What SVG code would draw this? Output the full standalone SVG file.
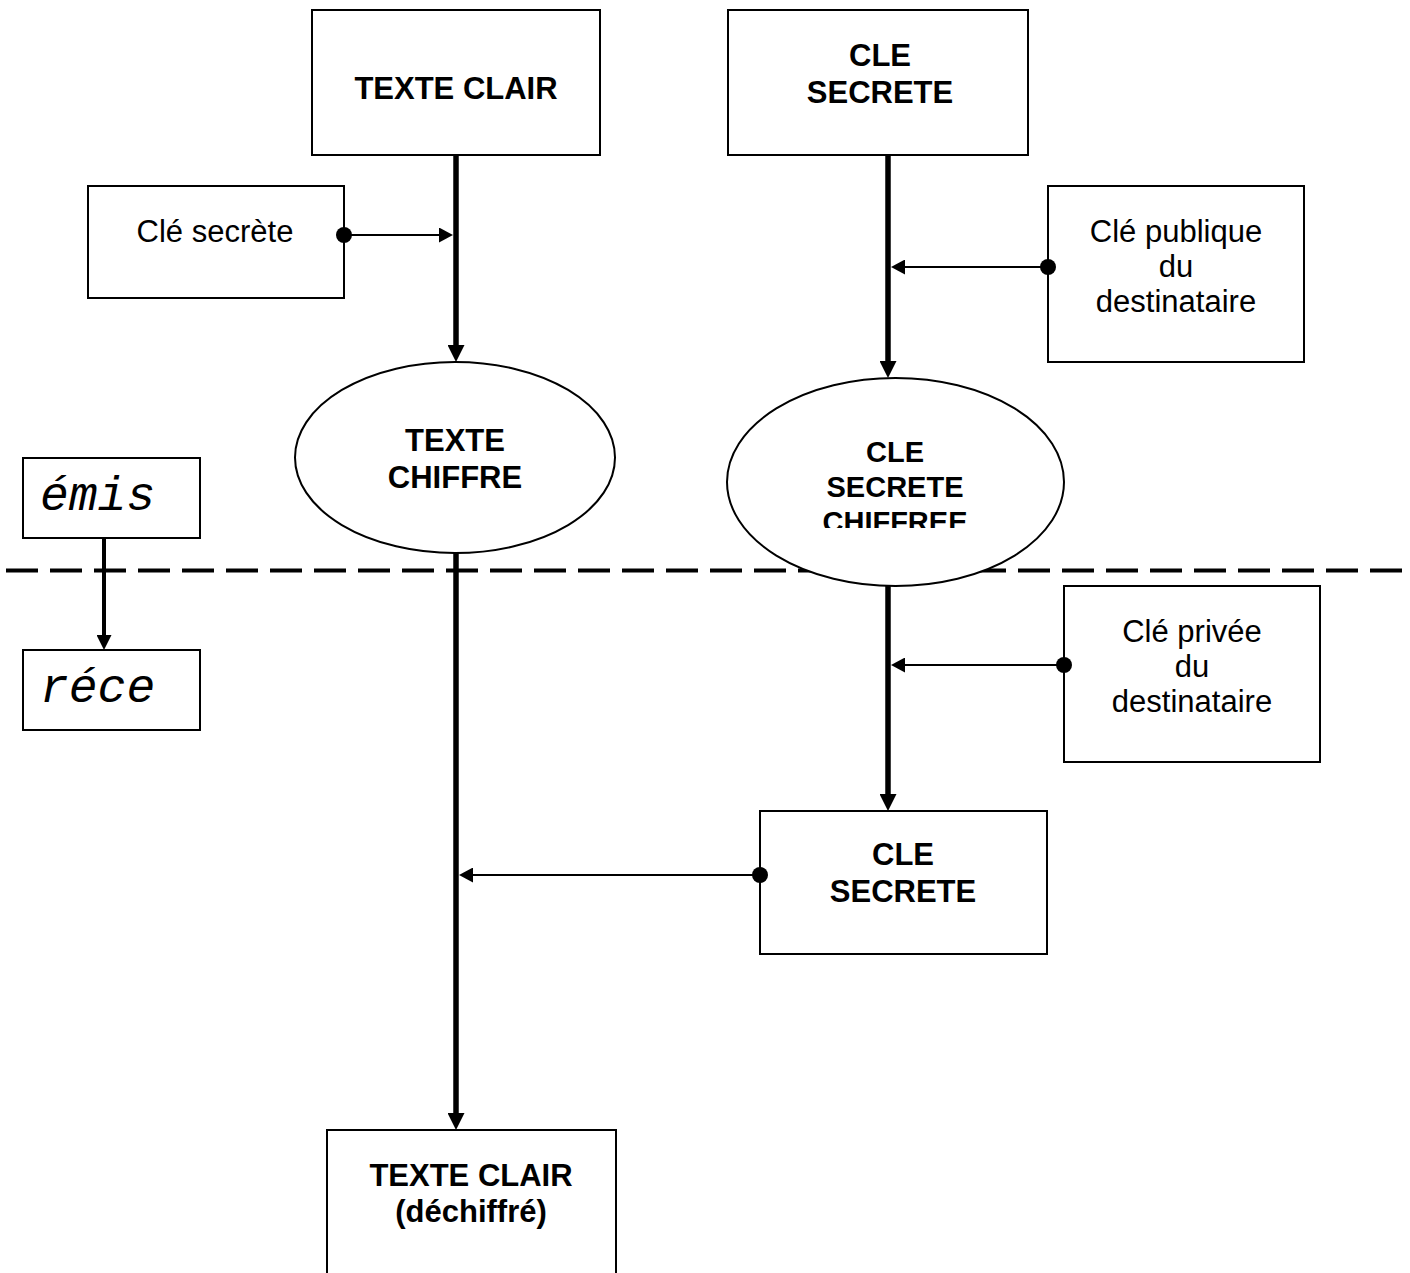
<svg xmlns="http://www.w3.org/2000/svg" width="1410" height="1273" viewBox="0 0 1410 1273">
<style>
.box{fill:#fff;stroke:#000;stroke-width:2}
.b{font-family:"Liberation Sans",Arial,sans-serif;font-weight:bold;font-size:31px;text-anchor:middle;fill:#000}
.b2{font-family:"Liberation Sans",Arial,sans-serif;font-weight:bold;font-size:29px;text-anchor:middle;fill:#000}
.r{font-family:"Liberation Sans",Arial,sans-serif;font-size:31px;text-anchor:middle;fill:#000}
.m{font-family:"Liberation Mono","Courier New",monospace;font-style:italic;font-size:48px;fill:#000}
.thick{stroke:#000;stroke-width:5.5;fill:none}
.thin{stroke:#000;stroke-width:2;fill:none}
</style>
<defs>
<marker id="arrowThick" markerUnits="userSpaceOnUse" markerWidth="17" markerHeight="17" refX="7" refY="8.5" orient="auto" viewBox="0 0 17 17"><path d="M0,0 L17,8.5 L0,17 z" fill="#000"/></marker>
<marker id="arrowMid" markerUnits="userSpaceOnUse" markerWidth="15" markerHeight="15" refX="6" refY="7.5" orient="auto" viewBox="0 0 15 15"><path d="M0,0 L15,7.5 L0,15 z" fill="#000"/></marker>
<marker id="arrowThin" markerUnits="userSpaceOnUse" markerWidth="14" markerHeight="15" refX="9" refY="7.5" orient="auto" viewBox="0 0 14 15"><path d="M0,0 L14,7.5 L0,15 z" fill="#000"/></marker>
<marker id="dot" markerUnits="userSpaceOnUse" markerWidth="17" markerHeight="17" refX="8.5" refY="8.5" viewBox="0 0 17 17"><circle cx="8.5" cy="8.5" r="8" fill="#000"/></marker>
<clipPath id="clipChiffree"><rect x="720" y="370" width="360" height="158"/></clipPath>
</defs>

<line x1="6" y1="570.5" x2="1410" y2="570.5" stroke="#000" stroke-width="4" stroke-dasharray="32 12"/>

<g id="texte-clair">
<rect class="box" x="312" y="10" width="288" height="145"/>
<text class="b" x="456" y="99">TEXTE CLAIR</text>
</g>
<g id="cle-secrete-top">
<rect class="box" x="728" y="10" width="300" height="145"/>
<text class="b" x="880" y="66">CLE</text>
<text class="b" x="880" y="103">SECRETE</text>
</g>
<g id="cle-secrete-sym">
<rect class="box" x="88" y="186" width="256" height="112"/>
<text class="r" x="215" y="242">Clé secrète</text>
</g>
<g id="cle-publique">
<rect class="box" x="1048" y="186" width="256" height="176"/>
<text class="r" x="1176" y="242">Clé publique</text>
<text class="r" x="1176" y="277">du</text>
<text class="r" x="1176" y="312">destinataire</text>
</g>
<g id="texte-chiffre">
<ellipse class="box" cx="455" cy="457.5" rx="160" ry="95.5"/>
<text class="b" x="455" y="451">TEXTE</text>
<text class="b" x="455" y="488">CHIFFRE</text>
</g>
<g id="cle-secrete-chiffree">
<ellipse class="box" cx="895.5" cy="482" rx="168.5" ry="104"/>
<g clip-path="url(#clipChiffree)">
<text class="b2" x="895" y="462">CLE</text>
<text class="b2" x="895" y="497">SECRETE</text>
<text class="b2" x="895" y="532">CHIFFREE</text>
</g>
</g>
<g id="emis">
<rect class="box" x="23" y="458" width="177" height="80"/>
<text class="m" x="40" y="510">émis</text>
</g>
<g id="rece">
<rect class="box" x="23" y="650" width="177" height="80"/>
<text class="m" x="40" y="702">réce</text>
</g>
<g id="cle-privee">
<rect class="box" x="1064" y="586" width="256" height="176"/>
<text class="r" x="1192" y="642">Clé privée</text>
<text class="r" x="1192" y="677">du</text>
<text class="r" x="1192" y="712">destinataire</text>
</g>
<g id="cle-secrete-dechiffree">
<rect class="box" x="760" y="811" width="287" height="143"/>
<text class="b" x="903" y="865">CLE</text>
<text class="b" x="903" y="902">SECRETE</text>
</g>
<g id="texte-clair-dechiffre">
<path class="box" d="M327,1275 L327,1130 L616,1130 L616,1275"/>
<text class="b" x="471" y="1186">TEXTE CLAIR</text>
<text class="b" x="471" y="1222">(déchiffré)</text>
</g>

<g id="connectors">
<line class="thick" x1="456" y1="155" x2="456" y2="352" marker-end="url(#arrowThick)"/>
<line class="thick" x1="456" y1="553" x2="456" y2="1120" marker-end="url(#arrowThick)"/>
<line class="thick" x1="888" y1="155" x2="888" y2="368" marker-end="url(#arrowThick)"/>
<line class="thick" x1="888" y1="586" x2="888" y2="801" marker-end="url(#arrowThick)"/>
<line stroke="#000" stroke-width="4" x1="104" y1="538" x2="104" y2="641" marker-end="url(#arrowMid)"/>
<line class="thin" x1="344" y1="235" x2="448" y2="235" marker-start="url(#dot)" marker-end="url(#arrowThin)"/>
<line class="thin" x1="1048" y1="267" x2="896" y2="267" marker-start="url(#dot)" marker-end="url(#arrowThin)"/>
<line class="thin" x1="1064" y1="665" x2="896" y2="665" marker-start="url(#dot)" marker-end="url(#arrowThin)"/>
<line class="thin" x1="760" y1="875" x2="464" y2="875" marker-start="url(#dot)" marker-end="url(#arrowThin)"/>
</g>
</svg>
